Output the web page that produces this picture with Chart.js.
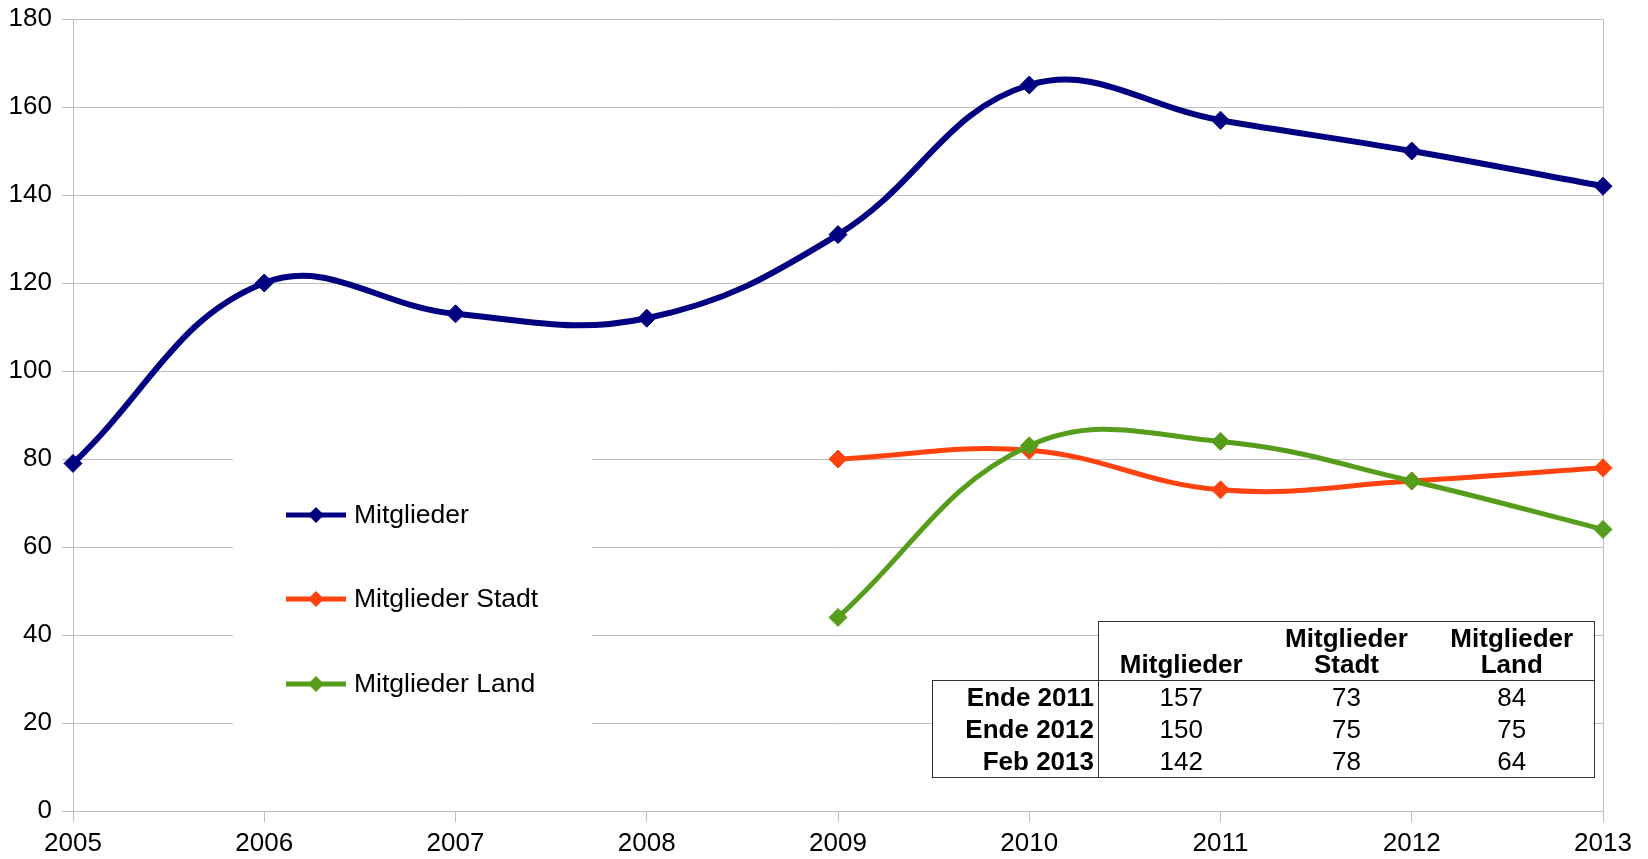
<!DOCTYPE html>
<html>
<head>
<meta charset="utf-8">
<script src="https://cdn.jsdelivr.net/npm/chart.js"></script>
<style>
  html, body { margin: 0; padding: 0; background: #ffffff; overflow: hidden; }
  #wrap { position: relative; width: 1648px; height: 859px; }
  #c { position: absolute; left: 0; top: 0; }
  #tbl {
    position: absolute; left: 932px; top: 621px;
    border-collapse: collapse; table-layout: fixed;
    font-family: 'Liberation Sans', Arial, sans-serif; font-size: 26px; color: #000;
  }
  #tbl td, #tbl th { padding: 0; margin: 0; }
  #tbl th { font-weight: bold; vertical-align: bottom; line-height: 26px; padding-bottom: 3px; height: 55px; background: #fff; text-align: center;
            border-top: 1px solid #333; border-bottom: 1px solid #333; }
  #tbl th.blank { background: transparent; border: none; }
  #tbl th.first { border-left: 1px solid #333; }
  #tbl th.last { border-right: 1px solid #333; }
  #tbl td { height: 32px; line-height: 32px; background: #fff; text-align: center; }
  #tbl td.lab { font-weight: bold; text-align: right; padding-right: 4px; border-left: 1px solid #333; border-right: 1px solid #333; }
  #tbl td.last { border-right: 1px solid #333; }
  #tbl tr.top td { border-top: 1px solid #333; }
  #tbl tr.bot td { border-bottom: 1px solid #333; }
</style>
</head>
<body>
<div id="wrap">
  <canvas id="c" width="1648" height="859"></canvas>
  <table id="tbl"></table>
</div>
<script>
// ---- data ----
const years = ['2005', '2006', '2007', '2008', '2009', '2010', '2011', '2012', '2013'];
const mitglieder = [79, 120, 113, 112, 131, 165, 157, 150, 142];
const mitgliederStadt = [null, null, null, null, 80, 82, 73, 75, 78];
const mitgliederLand = [null, null, null, null, 44, 83, 84, 75, 64];
const seriesNames = ['Mitglieder', 'Mitglieder Stadt', 'Mitglieder Land'];
const seriesColors = ['#000080', '#ff420e', '#579d1c'];
const yMin = 0, yMax = 180, yStep = 20;
const tableRowLabels = ['Ende 2011', 'Ende 2012', 'Feb 2013'];
const tableRowIndex = [6, 7, 8];
const tableHeaders = [['Mitglieder'], ['Mitglieder', 'Stadt'], ['Mitglieder', 'Land']];

const FONT = "'Liberation Sans', Arial, sans-serif";
const GRID = '#bfbfbf';

// ---- table ----
(function buildTable() {
  const t = document.getElementById('tbl');
  let html = '<colgroup><col style="width:166px"><col style="width:165px"><col style="width:166px"><col style="width:165px"></colgroup>';
  html += '<tr><th class="blank"></th>';
  tableHeaders.forEach((h, i) => {
    const cls = i === 0 ? 'first' : (i === tableHeaders.length - 1 ? 'last' : '');
    html += '<th class="' + cls + '">' + h.join('<br>') + '</th>';
  });
  html += '</tr>';
  const series = [mitglieder, mitgliederStadt, mitgliederLand];
  tableRowLabels.forEach((lab, r) => {
    const cls = r === 0 ? 'top' : (r === tableRowLabels.length - 1 ? 'bot' : '');
    html += '<tr class="' + cls + '"><td class="lab">' + lab + '</td>';
    series.forEach((s, i) => {
      html += '<td class="' + (i === series.length - 1 ? 'last' : '') + '">' + s[tableRowIndex[r]] + '</td>';
    });
    html += '</tr>';
  });
  t.innerHTML = html;
})();

// ---- legend plugin (drawn inside plot, on white box) ----
const legendPlugin = {
  id: 'insideLegend',
  beforeDatasetsDraw(chart) {
    const ctx = chart.ctx;
    ctx.save();
    ctx.fillStyle = '#ffffff';
    ctx.fillRect(233, 440, 359, 310);
    const x0 = 286, x1 = 346, ys = [515, 599, 684];
    chart.data.datasets.forEach((ds, i) => {
      const y = ys[i];
      ctx.strokeStyle = ds.borderColor;
      ctx.lineWidth = 5;
      ctx.beginPath();
      ctx.moveTo(x0, y); ctx.lineTo(x1, y);
      ctx.stroke();
      const cx = (x0 + x1) / 2, r = 8;
      ctx.fillStyle = ds.borderColor;
      ctx.beginPath();
      ctx.moveTo(cx - r, y); ctx.lineTo(cx, y - r); ctx.lineTo(cx + r, y); ctx.lineTo(cx, y + r);
      ctx.closePath();
      ctx.fill();
      ctx.fillStyle = '#000';
      ctx.font = '26.5px ' + FONT;
      ctx.textBaseline = 'middle';
      ctx.textAlign = 'left';
      ctx.fillText(ds.label, 354, y + 1);
    });
    ctx.restore();
  }
};

// ---- chart ----
const mk = (label, data, color, order, width) => ({
  label, data,
  borderColor: color, backgroundColor: color,
  pointBackgroundColor: color, pointBorderColor: color,
  borderWidth: width, pointStyle: 'rectRot', pointRadius: 9, pointBorderWidth: 1,
  tension: 0.4, fill: false, order
});

new Chart(document.getElementById('c'), {
  type: 'line',
  data: {
    labels: years,
    datasets: [
      mk(seriesNames[0], mitglieder, seriesColors[0], 2, 6),
      mk(seriesNames[1], mitgliederStadt, seriesColors[1], 1, 5),
      mk(seriesNames[2], mitgliederLand, seriesColors[2], 0, 5)
    ]
  },
  options: {
    responsive: false,
    devicePixelRatio: 1,
    animation: false,
    layout: { padding: { left: 0, right: 45, top: 19, bottom: 0 } },
    plugins: { legend: { display: false }, tooltip: { enabled: false } },
    scales: {
      x: {
        type: 'category',
        offset: false,
        grid: { drawOnChartArea: false, drawTicks: true, tickLength: 11, tickColor: GRID, color: GRID },
        border: { color: GRID, width: 1 },
        ticks: { color: '#000', font: { family: FONT, size: 26 }, padding: 6, maxRotation: 0, autoSkip: false },
        afterFit: s => { s.height = 48; s.paddingLeft = 0; s.paddingRight = 0; }
      },
      y: {
        min: yMin, max: yMax,
        grid: { color: GRID, tickLength: 11, tickColor: GRID },
        border: { color: GRID, width: 1 },
        ticks: { stepSize: yStep, color: '#000', font: { family: FONT, size: 26 }, padding: 10 },
        afterFit: s => { s.width = 73; s.paddingTop = 0; s.paddingBottom = 0; }
      },
      y2: {
        position: 'right', min: yMin, max: yMax,
        grid: { drawOnChartArea: false, drawTicks: false },
        border: { color: GRID, width: 1 },
        ticks: { display: false },
        afterFit: s => { s.width = 0; s.paddingTop = 0; s.paddingBottom = 0; }
      }
    }
  },
  plugins: [legendPlugin]
});
</script>
</body>
</html>
